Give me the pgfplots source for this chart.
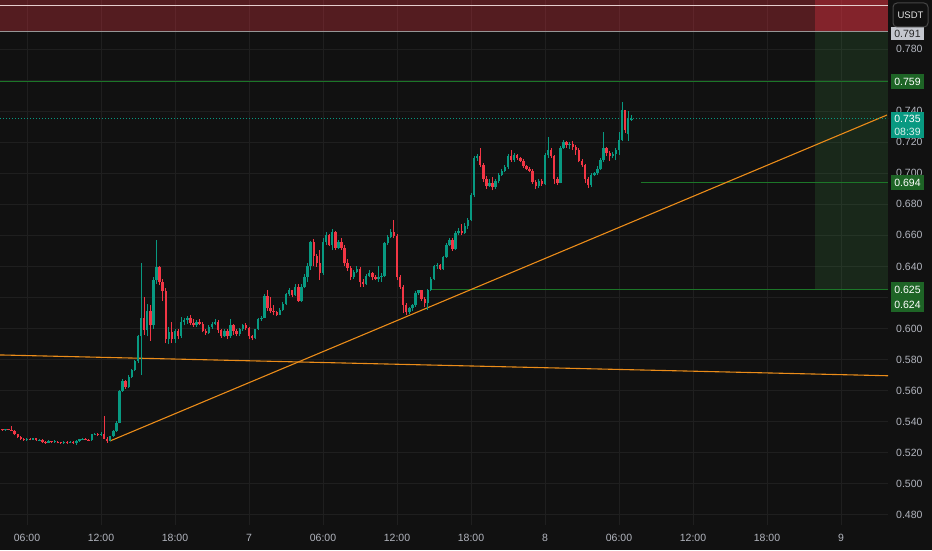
\documentclass[border=0pt]{standalone}
\usepackage{fontspec}
\setmainfont{Liberation Sans}
\usepackage{pgfplots}
\usepackage{pgfplotstable}
\pgfplotsset{compat=1.18}
\definecolor{bgc}{RGB}{17,17,17}
\definecolor{gridc}{RGB}{31,31,31}
\definecolor{upc}{RGB}{8,153,129}
\definecolor{dnc}{RGB}{242,54,69}
\definecolor{tickc}{RGB}{178,181,190}
\definecolor{lvl}{RGB}{28,118,40}
\definecolor{lvlbox}{RGB}{30,100,38}
\definecolor{orng}{RGB}{235,140,25}
\definecolor{zred}{RGB}{242,54,69}
\definecolor{zgrn}{RGB}{76,175,80}
\definecolor{wline}{RGB}{230,205,205}
\definecolor{sline}{RGB}{150,150,150}
\definecolor{sbox}{RGB}{196,199,206}
\definecolor{btn}{RGB}{70,70,70}

\pgfplotstableread{
t o h l c
4.00 0.5350 0.5355 0.5342 0.5346
4.25 0.5346 0.5356 0.5343 0.5352
4.50 0.5352 0.5355 0.5344 0.5348
4.75 0.5348 0.5372 0.5340 0.5342
5.00 0.5342 0.5345 0.5312 0.5318
5.25 0.5318 0.5320 0.5298 0.5303
5.50 0.5303 0.5305 0.5284 0.5290
5.75 0.5290 0.5292 0.5276 0.5282
6.00 0.5282 0.5295 0.5275 0.5290
6.25 0.5290 0.5293 0.5280 0.5285
6.50 0.5285 0.5296 0.5282 0.5292
6.75 0.5292 0.5294 0.5276 0.5280
7.00 0.5280 0.5290 0.5274 0.5284
7.25 0.5284 0.5288 0.5266 0.5272
7.50 0.5272 0.5276 0.5258 0.5266
7.75 0.5266 0.5280 0.5262 0.5274
8.00 0.5274 0.5278 0.5264 0.5268
8.25 0.5268 0.5280 0.5265 0.5272
8.50 0.5272 0.5276 0.5260 0.5264
8.75 0.5264 0.5270 0.5255 0.5262
9.00 0.5262 0.5276 0.5258 0.5270
9.25 0.5270 0.5274 0.5257 0.5262
9.50 0.5262 0.5278 0.5260 0.5270
9.75 0.5270 0.5275 0.5258 0.5264
10.00 0.5264 0.5282 0.5252 0.5276
10.25 0.5276 0.5290 0.5272 0.5286
10.50 0.5286 0.5298 0.5282 0.5290
10.75 0.5290 0.5294 0.5280 0.5285
11.00 0.5285 0.5290 0.5276 0.5280
11.25 0.5280 0.5322 0.5278 0.5318
11.50 0.5318 0.5330 0.5312 0.5322
11.75 0.5322 0.5328 0.5310 0.5316
12.00 0.5316 0.5332 0.5310 0.5324
12.25 0.5324 0.5440 0.5286 0.5290
12.50 0.5290 0.5300 0.5266 0.5278
12.75 0.5278 0.5310 0.5275 0.5305
13.00 0.5305 0.5346 0.5300 0.5340
13.25 0.5340 0.5402 0.5335 0.5395
13.50 0.5395 0.5605 0.5390 0.5600
13.75 0.5600 0.5672 0.5590 0.5660
14.00 0.5660 0.5668 0.5610 0.5625
14.25 0.5625 0.5700 0.5620 0.5690
14.50 0.5690 0.5742 0.5680 0.5735
14.75 0.5735 0.5800 0.5725 0.5790
15.00 0.5790 0.5960 0.5780 0.5950
15.25 0.5950 0.6420 0.5700 0.6070
15.50 0.6070 0.6205 0.5960 0.5990
15.75 0.5990 0.6160 0.5950 0.6110
16.00 0.6110 0.6150 0.5920 0.6020
16.25 0.6020 0.6330 0.6000 0.6310
16.50 0.6310 0.6570 0.6290 0.6395
16.75 0.6395 0.6405 0.6280 0.6300
17.00 0.6300 0.6320 0.6180 0.6240
17.25 0.6240 0.6260 0.5905 0.5935
17.50 0.5935 0.6010 0.5900 0.5975
17.75 0.5975 0.6040 0.5905 0.5930
18.00 0.5930 0.5995 0.5910 0.5985
18.25 0.5985 0.5995 0.5930 0.5955
18.50 0.5955 0.6075 0.5940 0.6045
18.75 0.6045 0.6070 0.6020 0.6055
19.00 0.6055 0.6080 0.6030 0.6070
19.25 0.6070 0.6085 0.6025 0.6035
19.50 0.6035 0.6060 0.6010 0.6020
19.75 0.6020 0.6055 0.6010 0.6045
20.00 0.6045 0.6060 0.6020 0.6030
20.25 0.6030 0.6045 0.5975 0.5985
20.50 0.5985 0.6000 0.5960 0.5970
20.75 0.5970 0.6020 0.5965 0.6010
21.00 0.6010 0.6040 0.6000 0.6030
21.25 0.6030 0.6060 0.6020 0.6045
21.50 0.6045 0.6055 0.5970 0.5990
21.75 0.5990 0.6000 0.5940 0.5950
22.00 0.5950 0.5995 0.5945 0.5985
22.25 0.5985 0.5995 0.5930 0.5955
22.50 0.5955 0.6060 0.5940 0.6020
22.75 0.6020 0.6030 0.5960 0.5985
23.00 0.5985 0.5995 0.5950 0.5965
23.25 0.5965 0.6005 0.5955 0.5995
23.50 0.5995 0.6030 0.5985 0.6020
23.75 0.6020 0.6035 0.5990 0.6005
24.00 0.6005 0.6010 0.5935 0.5950
24.25 0.5950 0.5960 0.5925 0.5940
24.50 0.5940 0.6000 0.5930 0.5995
24.75 0.5995 0.6070 0.5990 0.6060
25.00 0.6060 0.6080 0.6050 0.6070
25.25 0.6070 0.6225 0.6065 0.6210
25.50 0.6210 0.6250 0.6115 0.6130
25.75 0.6130 0.6200 0.6100 0.6110
26.00 0.6110 0.6150 0.6085 0.6105
26.25 0.6105 0.6115 0.6080 0.6090
26.50 0.6090 0.6130 0.6085 0.6120
26.75 0.6120 0.6170 0.6110 0.6160
27.00 0.6160 0.6230 0.6150 0.6220
27.25 0.6220 0.6260 0.6210 0.6245
27.50 0.6245 0.6250 0.6200 0.6215
27.75 0.6215 0.6285 0.6210 0.6270
28.00 0.6270 0.6290 0.6170 0.6180
28.25 0.6180 0.6290 0.6170 0.6270
28.50 0.6270 0.6350 0.6260 0.6335
28.75 0.6335 0.6420 0.6300 0.6400
29.00 0.6400 0.6565 0.6380 0.6555
29.25 0.6555 0.6575 0.6400 0.6470
29.50 0.6470 0.6480 0.6395 0.6420
29.75 0.6420 0.6505 0.6315 0.6360
30.00 0.6360 0.6585 0.6345 0.6560
30.25 0.6560 0.6620 0.6540 0.6600
30.50 0.6600 0.6610 0.6530 0.6535
30.75 0.6535 0.6640 0.6505 0.6620
31.00 0.6620 0.6630 0.6505 0.6520
31.25 0.6520 0.6570 0.6510 0.6560
31.50 0.6560 0.6580 0.6505 0.6520
31.75 0.6520 0.6535 0.6400 0.6420
32.00 0.6420 0.6445 0.6370 0.6390
32.25 0.6390 0.6400 0.6310 0.6330
32.50 0.6330 0.6380 0.6320 0.6365
32.75 0.6365 0.6400 0.6355 0.6385
33.00 0.6385 0.6395 0.6265 0.6300
33.25 0.6300 0.6320 0.6270 0.6290
33.50 0.6290 0.6350 0.6280 0.6340
33.75 0.6340 0.6375 0.6330 0.6360
34.00 0.6360 0.6365 0.6310 0.6330
34.25 0.6330 0.6345 0.6310 0.6320
34.50 0.6320 0.6400 0.6300 0.6335
34.75 0.6335 0.6360 0.6300 0.6340
35.00 0.6340 0.6560 0.6330 0.6550
35.25 0.6550 0.6600 0.6540 0.6590
35.50 0.6590 0.6640 0.6580 0.6620
35.75 0.6620 0.6700 0.6580 0.6595
36.00 0.6595 0.6610 0.6310 0.6330
36.25 0.6330 0.6345 0.6255 0.6270
36.50 0.6270 0.6280 0.6100 0.6150
36.75 0.6150 0.6165 0.6090 0.6105
37.00 0.6105 0.6140 0.6095 0.6130
37.25 0.6130 0.6160 0.6115 0.6150
37.50 0.6150 0.6240 0.6140 0.6230
37.75 0.6230 0.6250 0.6215 0.6245
38.00 0.6245 0.6250 0.6180 0.6190
38.25 0.6190 0.6200 0.6140 0.6165
38.50 0.6165 0.6255 0.6120 0.6250
38.75 0.6250 0.6330 0.6240 0.6320
39.00 0.6320 0.6410 0.6310 0.6400
39.25 0.6400 0.6420 0.6385 0.6410
39.50 0.6410 0.6415 0.6375 0.6385
39.75 0.6385 0.6470 0.6380 0.6460
40.00 0.6460 0.6550 0.6455 0.6540
40.25 0.6540 0.6580 0.6530 0.6570
40.50 0.6570 0.6580 0.6500 0.6510
40.75 0.6510 0.6625 0.6505 0.6615
41.00 0.6615 0.6650 0.6600 0.6630
41.25 0.6630 0.6670 0.6605 0.6615
41.50 0.6615 0.6680 0.6610 0.6660
41.75 0.6660 0.6710 0.6640 0.6700
42.00 0.6700 0.6870 0.6690 0.6860
42.25 0.6860 0.7110 0.6850 0.7100
42.50 0.7100 0.7125 0.7080 0.7110
42.75 0.7110 0.7163 0.7040 0.7055
43.00 0.7055 0.7065 0.6945 0.6965
43.25 0.6965 0.6980 0.6900 0.6920
43.50 0.6920 0.6960 0.6910 0.6940
43.75 0.6940 0.6975 0.6890 0.6910
44.00 0.6910 0.6965 0.6900 0.6950
44.25 0.6950 0.7000 0.6935 0.6990
44.50 0.6990 0.7030 0.6985 0.7015
44.75 0.7015 0.7050 0.7005 0.7040
45.00 0.7040 0.7125 0.7030 0.7110
45.25 0.7110 0.7150 0.7075 0.7085
45.50 0.7085 0.7130 0.7075 0.7120
45.75 0.7120 0.7125 0.7085 0.7095
46.00 0.7095 0.7105 0.7070 0.7080
46.25 0.7080 0.7090 0.7035 0.7045
46.50 0.7045 0.7055 0.7020 0.7030
46.75 0.7030 0.7040 0.7005 0.7015
47.00 0.7015 0.7030 0.6930 0.6945
47.25 0.6945 0.6955 0.6900 0.6915
47.50 0.6915 0.6960 0.6905 0.6950
47.75 0.6950 0.6960 0.6920 0.6930
48.00 0.6930 0.7130 0.6925 0.7115
48.25 0.7115 0.7233 0.7100 0.7150
48.50 0.7150 0.7160 0.7095 0.7110
48.75 0.7110 0.7120 0.6930 0.6960
49.00 0.6960 0.6975 0.6925 0.6940
49.25 0.6940 0.7175 0.6935 0.7165
49.50 0.7165 0.7215 0.7155 0.7200
49.75 0.7200 0.7210 0.7165 0.7180
50.00 0.7180 0.7200 0.7155 0.7190
50.25 0.7190 0.7205 0.7150 0.7170
50.50 0.7170 0.7185 0.7120 0.7150
50.75 0.7150 0.7160 0.7070 0.7080
51.00 0.7080 0.7090 0.7040 0.7050
51.25 0.7050 0.7060 0.6940 0.6960
51.50 0.6960 0.6975 0.6905 0.6925
51.75 0.6925 0.7000 0.6910 0.6990
52.00 0.6990 0.7010 0.6980 0.7000
52.25 0.7000 0.7045 0.6990 0.7030
52.50 0.7030 0.7095 0.7020 0.7085
52.75 0.7085 0.7266 0.7075 0.7160
53.00 0.7160 0.7170 0.7110 0.7130
53.25 0.7130 0.7140 0.7080 0.7110
53.50 0.7110 0.7135 0.7100 0.7125
53.75 0.7125 0.7160 0.7085 0.7150
54.00 0.7150 0.7266 0.7117 0.7215
54.25 0.7215 0.7457 0.7205 0.7405
54.50 0.7405 0.7410 0.7260 0.7280
54.75 0.7250 0.7400 0.7210 0.7355
55.00 0.7345 0.7372 0.7335 0.7350
}\candles

\begin{document}
\begin{tikzpicture}[x=1pt,y=1pt]
\fill[bgc] (0pt,0pt) rectangle (932pt,550pt);
\begin{axis}[
  at={(0pt,25pt)}, anchor=south west,
  width=888pt, height=525pt, scale only axis,
  xmin=3.811, xmax=75.81, ymin=0.4735, ymax=0.81155,
  clip=true,
  axis line style={draw=none},
  tick style={draw=none}, major tick length=0pt,
  grid=major, major grid style={draw=gridc, line width=0.9pt},
  xtick={6,12,18,24,30,36,42,48,54,60,66,72},
  xticklabels={06:00,12:00,18:00,7,06:00,12:00,18:00,8,06:00,12:00,18:00,9},
  ytick={0.48,0.50,0.52,0.54,0.56,0.58,0.60,0.62,0.64,0.66,0.68,0.70,0.72,0.74,0.76,0.78},
  yticklabels={0.480,0.500,0.520,0.540,0.560,0.580,0.600,,0.640,0.660,0.680,0.700,0.720,0.740,,0.780},
  yticklabel pos=right,
  yticklabel style={anchor=west, inner sep=0pt, xshift=8pt, text=tickc, font=\fontsize{10.5}{12}\selectfont},
  xticklabel style={anchor=base, inner sep=0pt, yshift=-16pt, text=tickc, font=\fontsize{10.5}{12}\selectfont},
]
% position tool zones
\addplot[draw=none, fill=zred, fill opacity=0.3, mark=none] coordinates {(3.811,0.791) (75.81,0.791) (75.81,0.8116) (3.811,0.8116)} -- cycle;
\addplot[draw=none, fill=zred, fill opacity=0.3, mark=none] coordinates {(69.93,0.791) (75.81,0.791) (75.81,0.8116) (69.93,0.8116)} -- cycle;
\addplot[draw=none, fill=zgrn, fill opacity=0.15, mark=none] coordinates {(69.93,0.625) (75.81,0.625) (75.81,0.791) (69.93,0.791)} -- cycle;
\addplot[wline, line width=1.2pt, mark=none] coordinates {(3.811,0.8080) (75.81,0.8080)};
\addplot[sline, line width=1pt, mark=none] coordinates {(3.811,0.7910) (75.81,0.7910)};
% horizontal levels
\addplot[lvl, line width=1.5pt, mark=none] coordinates {(3.811,0.759) (75.81,0.759)};
\addplot[lvl, line width=1.5pt, mark=none] coordinates {(55.79,0.694) (75.81,0.694)};
\addplot[lvl, line width=1.5pt, mark=none] coordinates {(38.68,0.625) (75.81,0.625)};
% trend lines
\addplot[orng, line width=1.1pt, mark=none] coordinates {(12.73,0.5276) (75.73,0.7375)};
\addplot[orng, line width=1.1pt, mark=none] coordinates {(3.811,0.5830) (75.81,0.5696)};
% current price line
\addplot[upc, line width=1pt, dash pattern=on 1pt off 2pt, mark=none] coordinates {(3.811,0.735) (75.81,0.735)};
% wicks (up / down)
\addplot[upc, line width=1pt, mark=none,
  quiver={u=0, v={\thisrow{c}>=\thisrow{o} ? \thisrow{h}-\thisrow{l} : 0}}]
  table[x=t, y=l] {\candles};
\addplot[dnc, line width=1pt, mark=none,
  quiver={u=0, v={\thisrow{c}<\thisrow{o} ? \thisrow{h}-\thisrow{l} : 0}}]
  table[x=t, y=l] {\candles};
% bodies (up / down)
\addplot[upc, line width=2.4pt, mark=none,
  quiver={u=0, v={\thisrow{c}>=\thisrow{o} ? max(\thisrow{c}-\thisrow{o},0.0005) : 0}}]
  table[x=t, y=o] {\candles};
\addplot[dnc, line width=2.4pt, mark=none,
  quiver={u=0, v={\thisrow{c}<\thisrow{o} ? max(\thisrow{o}-\thisrow{c},0.0005) : 0}}]
  table[x=t, y=c] {\candles};
\end{axis}
% price scale labels
\tikzset{plab/.style={inner sep=0pt, font=\fontsize{10.5}{12}\selectfont}}
\fill[sbox] (891pt,510pt) rectangle (924pt,523pt);
\node[plab, text=black!85] at (907.5pt,516.5pt) {0.791};
\fill[lvlbox] (891pt,461pt) rectangle (924pt,476pt);
\node[plab, text=white] at (907.5pt,468.5pt) {0.759};
\fill[upc] (891pt,412pt) rectangle (924pt,438pt);
\node[plab, text=white] at (907.5pt,431pt) {0.735};
\node[plab, text=white!85!upc] at (907.5pt,418.5pt) {08:39};
\fill[lvlbox] (891pt,360pt) rectangle (924pt,375pt);
\node[plab, text=white] at (907.5pt,367.5pt) {0.694};
\fill[lvlbox] (891pt,238pt) rectangle (924pt,268pt);
\node[plab, text=white] at (907.5pt,260pt) {0.625};
\node[plab, text=white] at (907.5pt,245.5pt) {0.624};
\filldraw[fill=bgc, draw=btn, line width=1pt, rounded corners=4pt] (893pt,523pt) rectangle (928pt,547pt);
\node[plab, text=white!90!black, font=\fontsize{9.5}{11}\selectfont] at (910.5pt,535pt) {USDT};
\pgfresetboundingbox
\path[use as bounding box] (0pt,0pt) rectangle (932pt,550pt);
\end{tikzpicture}
\end{document}
